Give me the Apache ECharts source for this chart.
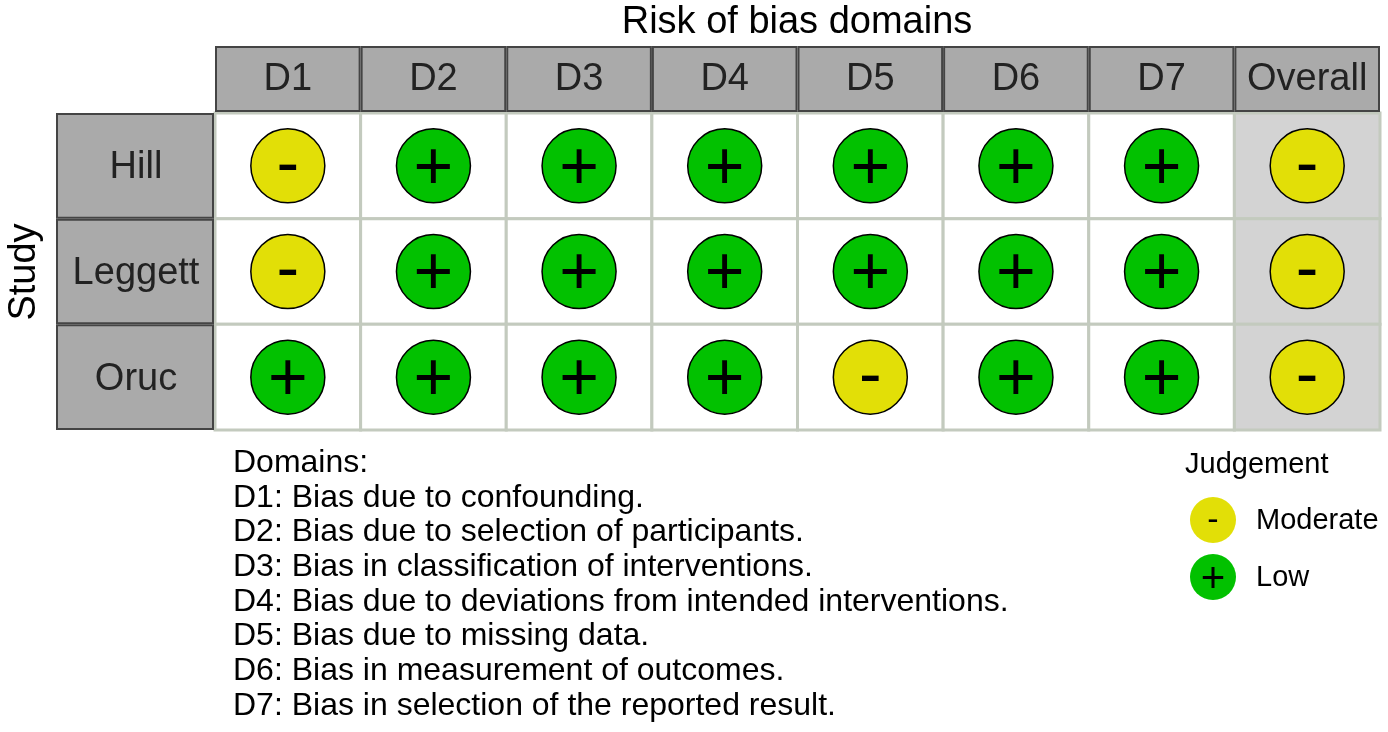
<!DOCTYPE html>
<html lang="en">
<head>
    <meta charset="UTF-8">
    <title>Risk of bias</title>
    <style>
        html, body { margin: 0; padding: 0; background: #fff; }
        #chart { width: 1388px; height: 732px; }
    </style>
    <script src="https://cdn.jsdelivr.net/npm/echarts@6/dist/echarts.min.js"></script>
</head>
<body>
    <div id="chart"></div>
    <script>
        // data
        const domains = ['D1', 'D2', 'D3', 'D4', 'D5', 'D6', 'D7', 'Overall'];
        const studies = ['Hill', 'Leggett', 'Oruc'];
        const hill = ['Moderate', 'Low', 'Low', 'Low', 'Low', 'Low', 'Low', 'Moderate'];
        const leggett = ['Moderate', 'Low', 'Low', 'Low', 'Low', 'Low', 'Low', 'Moderate'];
        const oruc = ['Low', 'Low', 'Low', 'Low', 'Moderate', 'Low', 'Low', 'Moderate'];
        const domainNotes = [
            'Domains:',
            'D1: Bias due to confounding.',
            'D2: Bias due to selection of participants.',
            'D3: Bias in classification of interventions.',
            'D4: Bias due to deviations from intended interventions.',
            'D5: Bias due to missing data.',
            'D6: Bias in measurement of outcomes.',
            'D7: Bias in selection of the reported result.'
        ];
        const levels = ['Moderate', 'Low'];
        const levelSigns = { Moderate: '-', Low: '+' };
        const levelColors = { Moderate: '#e2df07', Low: '#02c100' };

        const font = '"Liberation Sans", Arial, sans-serif';
        const rows = [hill, leggett, oruc];

        let points = [];
        let cells = [];
        rows.forEach((r, yi) => {
            r.forEach((j, xi) => {
                points.push({
                    value: [xi, yi, j],
                    label: { offset: j === 'Low' ? [0, 4] : [0, 1] }
                });
                cells.push([xi, yi]);
            });
        });

        let inst = echarts.init(document.getElementById('chart'));

        function cellItem(params, api) {
            let p = api.coord([api.value(0), api.value(1)]);
            let s = api.size([1, 1]);
            let overall = api.value(0) === domains.length - 1;
            return {
                type: 'rect',
                shape: { x: p[0] - s[0] / 2, y: p[1] - s[1] / 2, width: s[0], height: s[1] },
                style: { fill: overall ? '#d3d3d3' : '#ffffff', stroke: '#c3cabe', lineWidth: 3 }
            };
        }

        function headerItem(params, api) {
            let i = api.value(0);
            let p = api.coord([i, 0]);
            let s = api.size([1, 1]);
            let top = params.coordSys.y;
            return {
                type: 'group',
                children: [{
                    type: 'rect',
                    shape: { x: p[0] - s[0] / 2 + 1, y: top - 66, width: s[0] - 2, height: 64 },
                    style: { fill: '#aaaaaa', stroke: '#444444', lineWidth: 2 }
                }, {
                    type: 'text',
                    style: {
                        x: p[0], y: top - 33, text: domains[i],
                        fill: '#222', font: '38px ' + font,
                        align: 'center', verticalAlign: 'middle'
                    }
                }]
            };
        }

        function studyItem(params, api) {
            let i = api.value(0);
            let p = api.coord([0, i]);
            let s = api.size([1, 1]);
            let left = params.coordSys.x;
            return {
                type: 'group',
                children: [{
                    type: 'rect',
                    shape: { x: left - 158, y: p[1] - s[1] / 2 + 1, width: 156, height: s[1] - 2 },
                    style: { fill: '#aaaaaa', stroke: '#444444', lineWidth: 2 }
                }, {
                    type: 'text',
                    style: {
                        x: left - 79, y: p[1] + 2, text: studies[i],
                        fill: '#222', font: '38px ' + font,
                        align: 'center', verticalAlign: 'middle'
                    }
                }]
            };
        }

        let graphics = [{
            type: 'text', x: 797, y: 23,
            style: { text: 'Risk of bias domains', fill: '#000', font: '38px ' + font, align: 'center', verticalAlign: 'middle' }
        }, {
            type: 'text', x: 25, y: 272, rotation: Math.PI / 2,
            style: { text: 'Study', fill: '#000', font: '38px ' + font, align: 'center', verticalAlign: 'middle' }
        }, {
            type: 'text', x: 1185, y: 465,
            style: { text: 'Judgement', fill: '#000', font: '29px ' + font, verticalAlign: 'middle' }
        }];
        domainNotes.forEach((t, i) => {
            graphics.push({
                type: 'text', x: 233, y: 463 + i * 34.7,
                style: { text: t, fill: '#000', font: '32px ' + font, verticalAlign: 'middle' }
            });
        });
        levels.forEach((lv, i) => {
            let cy = 520 + i * 57;
            graphics.push({
                type: 'circle', shape: { cx: 1213, cy: cy, r: 23 },
                style: { fill: levelColors[lv] }
            });
            graphics.push({
                type: 'text', x: 1213, y: cy + (lv === 'Low' ? 3 : 1),
                style: {
                    text: levelSigns[lv], fill: '#000',
                    font: (lv === 'Low' ? '42px ' : '34px ') + font,
                    align: 'center', verticalAlign: 'middle'
                }
            });
            graphics.push({
                type: 'text', x: 1256, y: cy + 1,
                style: { text: lv, fill: '#000', font: '29px ' + font, verticalAlign: 'middle' }
            });
        });

        let opt = {
            animation: false,
            backgroundColor: '#fff',
            grid: { left: 215, right: 8, top: 113, bottom: 302 },
            xAxis: { type: 'category', data: domains, show: false },
            yAxis: { type: 'category', data: studies, inverse: true, show: false },
            graphic: graphics,
            series: [{
                type: 'custom', renderItem: cellItem, data: cells, clip: false, z: 1
            }, {
                type: 'custom', renderItem: headerItem, data: domains.map((d, i) => [i]), clip: false, z: 1
            }, {
                type: 'custom', renderItem: studyItem, data: studies.map((d, i) => [i]), clip: false, z: 1
            }, {
                type: 'scatter', data: points, symbolSize: 74, z: 3,
                itemStyle: {
                    color: p => levelColors[p.value[2]],
                    borderColor: '#000', borderWidth: 1.5, opacity: 1
                },
                label: {
                    show: true, position: 'inside', color: '#000',
                    fontFamily: 'Liberation Sans', fontSize: 68,
                    formatter: p => levelSigns[p.value[2]]
                }
            }]
        };
        inst.setOption(opt);
    </script>
</body>
</html>
